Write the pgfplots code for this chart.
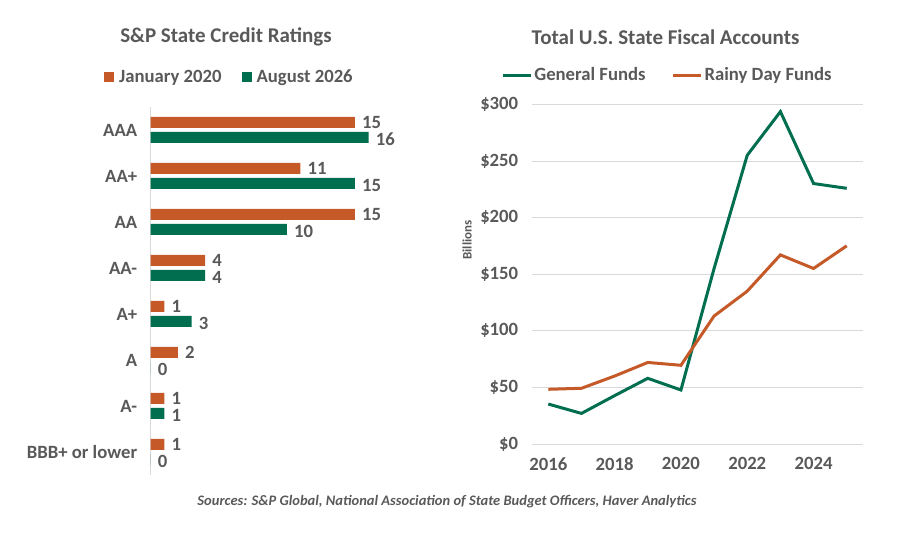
\documentclass[border=0pt]{standalone}
\usepackage{pgfplots}
\pgfplotsset{compat=1.18}
\usepackage{fontspec}
\setmainfont{Carlito}
\definecolor{ratorange}{HTML}{C55A28}
\definecolor{ratgreen}{HTML}{006E4F}
\definecolor{txtgray}{HTML}{595959}
\definecolor{gridgray}{HTML}{D9D9D9}
\newcommand{\lblfont}{\fontsize{18.7}{22}\selectfont\bfseries}
\newcommand{\ttlfont}{\fontsize{21}{24}\selectfont\bfseries}

\pgfplotstableread{
y jan aug
7 15 16
6 11 15
5 15 10
4 4 4
3 1 3
2 2 0
1 1 1
0 1 0
}\ratings

\pgfplotstableread{
year general rainy
2016 35.3 48.3
2017 27.0 49.2
2018 42.7 60.0
2019 58.0 72.0
2020 47.7 69.5
2021 155.0 113.0
2022 255.0 135.0
2023 293.5 167.0
2024 230.0 155.0
2025 225.8 175.0
}\fiscal

\begin{document}
\begin{tikzpicture}
\useasboundingbox (0,0) rectangle (897pt,534pt);

% left panel
\begin{axis}[
  at={(150.7pt,59pt)}, anchor=south west,
  scale only axis, width=231.5pt, height=368pt,
  xmin=0, xmax=17, ymin=-0.5, ymax=7.5,
  xbar, bar width=11pt,
  axis lines*=left,
  x axis line style={draw=none},
  y axis line style={draw=gridgray, line width=1pt},
  xtick=\empty,
  ytick={0,...,7},
  yticklabels={BBB+ or lower, A-, A, A+, AA-, AA, AA+, AAA},
  major tick length=0pt,
  /pgf/number format/assume math mode=true,
  yticklabel style={font=\lblfont, text=txtgray, xshift=-10pt},
  nodes near coords,
  nodes near coords style={font=\lblfont, text=txtgray, anchor=west, inner sep=0pt, xshift=7pt},
  legend style={at={(0.340,1.082)}, anchor=center, draw=none, fill=none,
    legend columns=2, font=\lblfont, text=txtgray,
    /tikz/every even column/.append style={column sep=18pt}},
  legend image code/.code={\fill[#1] (0pt,-5pt) rectangle (10pt,5pt); \path (13pt,0pt);},
  clip=false,
]
\addplot[fill=ratorange, draw=none, bar shift=7.5pt,
  nodes near coords style={yshift=0.5pt}] table[x=jan, y=y] {\ratings};
\addlegendentry{January 2020}
\addplot[fill=ratgreen, draw=none, bar shift=-7.5pt,
  nodes near coords style={yshift=-2pt}] table[x=aug, y=y] {\ratings};
\addlegendentry{August 2026}
\end{axis}

% right panel
\begin{axis}[
  at={(531.7pt,90pt)}, anchor=south west,
  scale only axis, width=331.6pt, height=339.7pt,
  xmin=2015.5, xmax=2025.5, ymin=0, ymax=300,
  axis line style={draw=none},
  xtick={2016,2018,...,2024},
  ytick={0,50,...,300},
  xticklabel={\pgfmathprintnumber[1000 sep=]{\tick}},
  yticklabel={\$\pgfmathprintnumber{\tick}},
  /pgf/number format/assume math mode=true,
  major tick length=0pt,
  ymajorgrids, grid style={gridgray, line width=0.8pt},
  yticklabel style={font=\lblfont, text=txtgray, xshift=-10pt},
  xticklabel style={font=\lblfont, text=txtgray, yshift=-10pt},
  legend style={at={(0.4095,1.086)}, anchor=center, draw=none, fill=none,
    legend columns=2, font=\lblfont, text=txtgray,
    /tikz/every even column/.append style={column sep=24pt}},
  legend image code/.code={\draw[#1] (0pt,0pt) -- (28pt,0pt);},
  clip=false,
]
\addplot[ratgreen, line width=3pt] table[x=year, y=general] {\fiscal};
\addlegendentry{General Funds}
\addplot[ratorange, line width=3pt] table[x=year, y=rainy] {\fiscal};
\addlegendentry{Rainy Day Funds}
\end{axis}

\node[rotate=90, text=txtgray, font=\fontsize{13}{15}\selectfont\bfseries] at (467pt,294pt) {Billions};
\node[text=txtgray, font=\ttlfont] at (226pt,497pt) {S\&P State Credit Ratings};
\node[text=txtgray, font=\ttlfont] at (665.5pt,497pt) {Total U.S. State Fiscal Accounts};
\node[text=txtgray, font=\fontsize{14.5}{17}\selectfont\bfseries\itshape] at (447pt,32pt) {Sources: S\&P Global, National Association of State Budget Officers, Haver Analytics};
\end{tikzpicture}
\end{document}
